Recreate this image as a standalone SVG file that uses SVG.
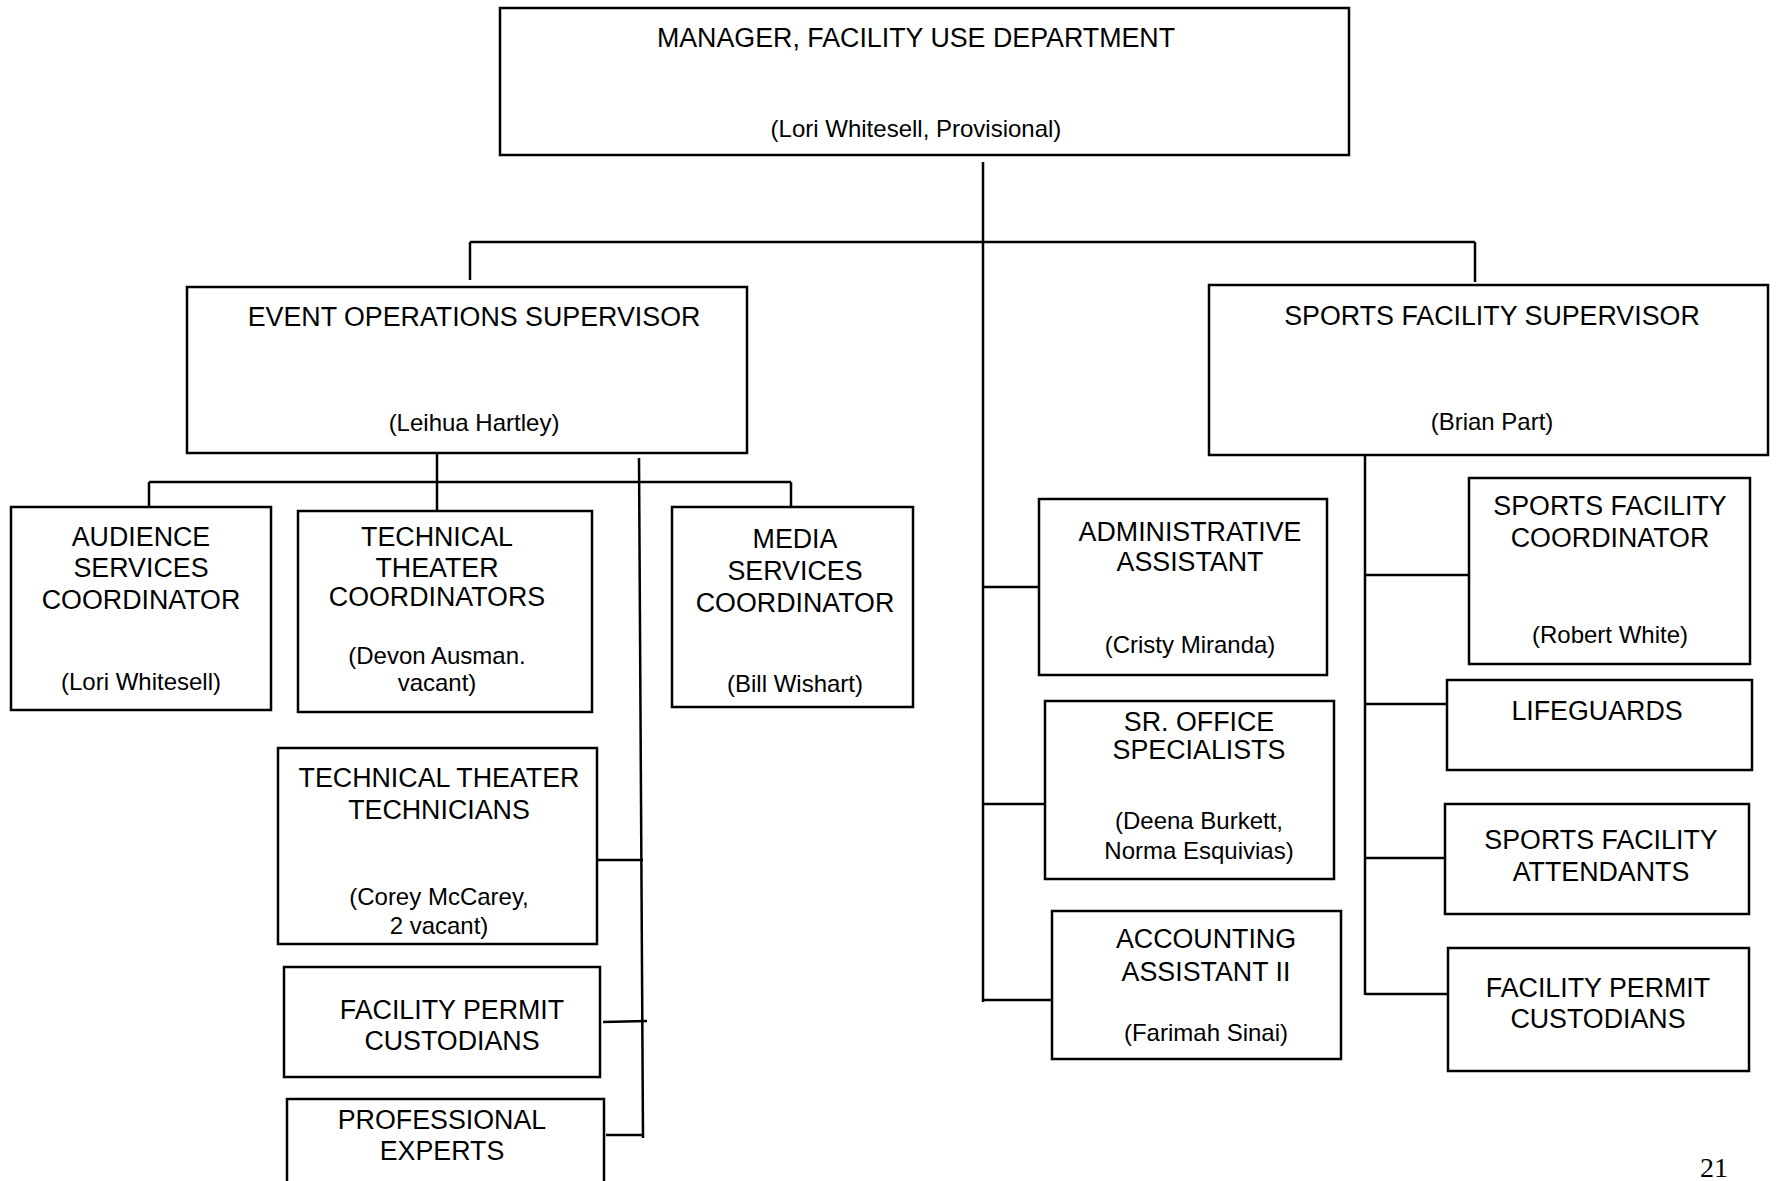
<svg xmlns="http://www.w3.org/2000/svg" width="1776" height="1181" viewBox="0 0 1776 1181">
<style>
.box{fill:#fff;stroke:#000;stroke-width:2.5}
.ln{stroke:#000;stroke-width:2.5;fill:none}
text{font-family:"Liberation Sans",Arial,sans-serif;font-size:26.8px;fill:#000;text-anchor:middle}
text.nm{font-size:24px}
.pg{font-family:"Liberation Serif","Times New Roman",serif;font-size:28px;text-anchor:start}
</style>
<rect width="1776" height="1181" fill="#fff"/>
<g id="connectors">
<line class="ln" x1="983" y1="162" x2="983" y2="1002"/>
<line class="ln" x1="470" y1="242" x2="1475" y2="242"/>
<line class="ln" x1="470" y1="242" x2="470" y2="280"/>
<line class="ln" x1="1475" y1="242" x2="1475" y2="282"/>
<line class="ln" x1="437" y1="453" x2="437" y2="511"/>
<line class="ln" x1="149" y1="482" x2="791" y2="482"/>
<line class="ln" x1="149" y1="482" x2="149" y2="507"/>
<line class="ln" x1="791" y1="482" x2="791" y2="507"/>
<line class="ln" x1="639" y1="458" x2="643" y2="1138"/>
<line class="ln" x1="594" y1="860" x2="643" y2="860"/>
<line class="ln" x1="603" y1="1022" x2="647" y2="1021"/>
<line class="ln" x1="606" y1="1135" x2="643" y2="1135"/>
<line class="ln" x1="983" y1="587" x2="1045" y2="587"/>
<line class="ln" x1="983" y1="804" x2="1046" y2="804"/>
<line class="ln" x1="983" y1="1000" x2="1052" y2="1000"/>
<line class="ln" x1="1365" y1="455" x2="1365" y2="995"/>
<line class="ln" x1="1365" y1="575" x2="1469" y2="575"/>
<line class="ln" x1="1365" y1="704" x2="1447" y2="704"/>
<line class="ln" x1="1365" y1="858" x2="1445" y2="858"/>
<line class="ln" x1="1365" y1="994" x2="1448" y2="994"/>
</g>
<g id="manager">
<rect class="box" x="500" y="8" width="849" height="147"/>
<text x="916" y="47">MANAGER, FACILITY USE DEPARTMENT</text>
<text class="nm" x="916" y="137">(Lori Whitesell, Provisional)</text>
</g>
<g id="event-ops">
<rect class="box" x="187" y="287" width="560" height="166"/>
<text x="474" y="326">EVENT OPERATIONS SUPERVISOR</text>
<text class="nm" x="474" y="431">(Leihua Hartley)</text>
</g>
<g id="sports-sup">
<rect class="box" x="1209" y="285" width="559" height="170"/>
<text x="1492" y="325">SPORTS FACILITY SUPERVISOR</text>
<text class="nm" x="1492" y="430">(Brian Part)</text>
</g>
<g id="audience">
<rect class="box" x="11" y="507" width="260" height="203"/>
<text x="141" y="546">AUDIENCE</text>
<text x="141" y="577">SERVICES</text>
<text x="141" y="609">COORDINATOR</text>
<text class="nm" x="141" y="690">(Lori Whitesell)</text>
</g>
<g id="tech-coord">
<rect class="box" x="298" y="511" width="294" height="201"/>
<text x="437" y="546">TECHNICAL</text>
<text x="437" y="577">THEATER</text>
<text x="437" y="606">COORDINATORS</text>
<text class="nm" x="437" y="664">(Devon Ausman.</text>
<text class="nm" x="437" y="691">vacant)</text>
</g>
<g id="media">
<rect class="box" x="672" y="507" width="241" height="200"/>
<text x="795" y="548">MEDIA</text>
<text x="795" y="580">SERVICES</text>
<text x="795" y="612">COORDINATOR</text>
<text class="nm" x="795" y="692">(Bill Wishart)</text>
</g>
<g id="tech-techs">
<rect class="box" x="278" y="748" width="319" height="196"/>
<text x="439" y="787">TECHNICAL THEATER</text>
<text x="439" y="819">TECHNICIANS</text>
<text class="nm" x="439" y="905">(Corey McCarey,</text>
<text class="nm" x="439" y="934">2 vacant)</text>
</g>
<g id="permit-left">
<rect class="box" x="284" y="967" width="316" height="110"/>
<text x="452" y="1019">FACILITY PERMIT</text>
<text x="452" y="1050">CUSTODIANS</text>
</g>
<g id="experts">
<rect class="box" x="287" y="1099" width="317" height="100"/>
<text x="442" y="1129">PROFESSIONAL</text>
<text x="442" y="1160">EXPERTS</text>
</g>
<g id="admin">
<rect class="box" x="1039" y="499" width="288" height="176"/>
<text x="1190" y="541">ADMINISTRATIVE</text>
<text x="1190" y="571">ASSISTANT</text>
<text class="nm" x="1190" y="653">(Cristy Miranda)</text>
</g>
<g id="sr-office">
<rect class="box" x="1045" y="701" width="289" height="178"/>
<text x="1199" y="731">SR. OFFICE</text>
<text x="1199" y="759">SPECIALISTS</text>
<text class="nm" x="1199" y="829">(Deena Burkett,</text>
<text class="nm" x="1199" y="859">Norma Esquivias)</text>
</g>
<g id="accounting">
<rect class="box" x="1052" y="911" width="289" height="148"/>
<text x="1206" y="948">ACCOUNTING</text>
<text x="1206" y="981">ASSISTANT II</text>
<text class="nm" x="1206" y="1041">(Farimah Sinai)</text>
</g>
<g id="sports-coord">
<rect class="box" x="1469" y="478" width="281" height="186"/>
<text x="1610" y="515">SPORTS FACILITY</text>
<text x="1610" y="547">COORDINATOR</text>
<text class="nm" x="1610" y="643">(Robert White)</text>
</g>
<g id="lifeguards">
<rect class="box" x="1447" y="680" width="305" height="90"/>
<text x="1597" y="720">LIFEGUARDS</text>
</g>
<g id="attendants">
<rect class="box" x="1445" y="804" width="304" height="110"/>
<text x="1601" y="849">SPORTS FACILITY</text>
<text x="1601" y="881">ATTENDANTS</text>
</g>
<g id="permit-right">
<rect class="box" x="1448" y="948" width="301" height="123"/>
<text x="1598" y="997">FACILITY PERMIT</text>
<text x="1598" y="1028">CUSTODIANS</text>
</g>
<text class="pg" x="1700" y="1177">21</text>
</svg>
